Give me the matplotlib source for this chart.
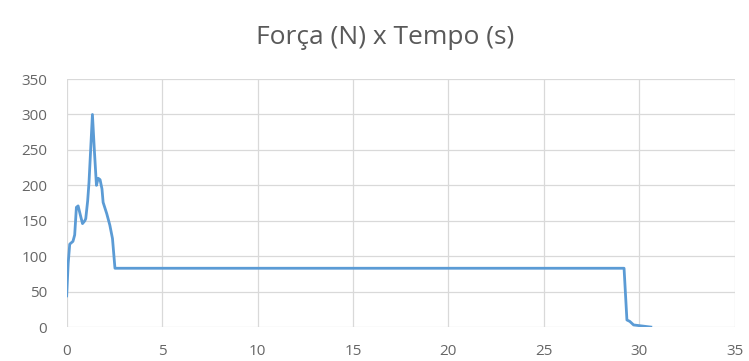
import matplotlib
matplotlib.use('Agg')
import matplotlib.pyplot as plt

# tempo (s) e força (N)
tempo = [0.0, 0.08, 0.16, 0.33, 0.42, 0.51, 0.6, 0.7, 0.83, 0.95, 1.0, 1.1,
         1.17, 1.35, 1.45, 1.56, 1.65, 1.75, 1.85, 1.91, 2.1, 2.26, 2.4, 2.53,
         29.2, 29.35, 29.5, 29.7, 30.0, 30.6]
forca = [44, 90, 117, 121, 130, 169, 171, 160, 146, 150, 153, 178,
         204, 300, 250, 200, 210, 208, 195, 176, 160, 144, 125, 83,
         83, 10, 8, 3, 2, 0]

plt.rcParams['font.family'] = ['Open Sans', 'DejaVu Sans']

fig = plt.figure(figsize=(7.49, 3.61), dpi=100)
ax = fig.add_axes([0.089, 0.094, 0.892, 0.687])

ax.plot(tempo, forca, color='#5B9BD5', linewidth=2.0, solid_joinstyle='round')

ax.set_xlim(0, 35)
ax.set_ylim(0, 350)
ax.set_xticks(range(0, 36, 5))
ax.set_yticks(range(0, 351, 50))
ax.grid(True, color='#D9D9D9', linewidth=0.9)
ax.set_axisbelow(True)
for s in ax.spines.values():
    s.set_visible(False)
ax.tick_params(length=0, labelsize=11, colors='#666666')
ax.tick_params(axis='y', pad=14)
ax.tick_params(axis='x', pad=12)

fig.text(0.514, 0.895, 'Força (N) x Tempo (s)', fontsize=19, color='#595959',
         ha='center', va='center')

fig.savefig('out.png', dpi=100)
